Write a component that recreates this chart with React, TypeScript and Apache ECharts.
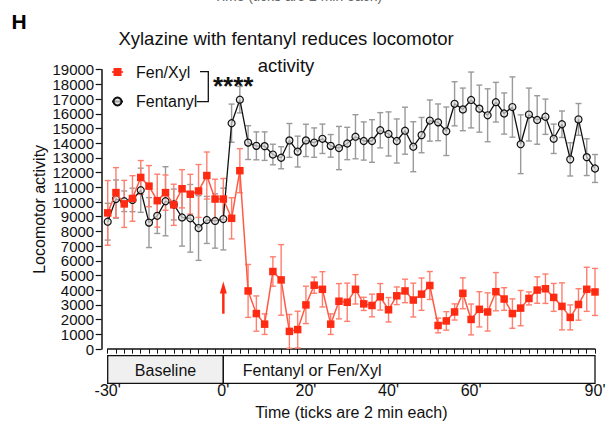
import React, { useEffect, useRef } from 'react';
import * as echarts from 'echarts';

const FONT = "'Liberation Sans', Arial, Helvetica, sans-serif";

// 60 samples, one per 2-min tick
const sampleIndex = Array.from({ length: 60 }, (_, i) => String(i));
const tickLabels: Record<number, string> = { 0: "-30'", 14: "0'", 24: "20'", 34: "40'", 44: "60'", 59: "90'" };
const yTickValues = [
  0, 1000, 2000, 3000, 4000, 5000, 6000, 7000, 8000, 9000,
  10000, 11000, 12000, 13000, 14000, 15000, 16000, 17000, 18000, 19000,
];

const fenXylMean = [
  9260, 10640, 9870, 10240, 11670, 11080, 10090, 10640, 9810, 10900,
  10530, 10750, 11800, 10200, 10200, 8890, 12130, 3950, 2410, 1690,
  5270, 4700, 1200, 1320, 3000, 4340, 4060, 1690, 3250, 3180,
  4060, 3070, 2960, 3550, 2670, 3620, 3950, 3330, 3730, 4320,
  1600, 1910, 2520, 3790, 2010, 2700, 2520, 3900, 3400, 2410,
  2780, 3440, 4010, 4100, 3510, 2900, 2150, 3030, 4060, 3880,
];
const fenXylSem = [
  2200, 1700, 1600, 1550, 1150, 1400, 1800, 1200, 1400, 1300,
  1350, 1800, 1600, 1350, 1400, 1400, 1500, 1800, 1200, 700,
  1000, 2400, 1150, 1250, 1270, 550, 1200, 700, 1200, 1300,
  1000, 450, 770, 900, 830, 600, 800, 1150, 1100, 950,
  500, 630, 550, 1050, 1050, 1200, 1300, 1300, 770, 1000,
  1200, 440, 900, 1000, 950, 1600, 850, 1070, 1500, 1600,
];
const fentanylMean = [
  8660, 10200, 10050, 10140, 10800, 8600, 9060, 10050, 9830, 8950,
  8890, 8230, 8780, 8710, 8840, 15360, 16960, 14040, 13820, 13800,
  13230, 13010, 14190, 13430, 14190, 14040, 14300, 13820, 13670, 13980,
  14440, 14150, 14150, 14880, 14630, 14150, 14850, 13760, 14550, 15540,
  15420, 14810, 16680, 16300, 16940, 16350, 15900, 16790, 16020, 16460,
  13930, 15950, 15580, 15800, 14300, 15290, 12900, 15620, 13050, 12280,
];
const fentanylSem = [
  1250, 1300, 700, 800, 1500, 1700, 1200, 2350, 1050, 1950,
  2300, 2200, 1600, 1850, 2100, 1300, 900, 1150, 950, 970,
  700, 750, 1150, 1050, 1100, 1000, 1000, 770, 1470, 1100,
  1500, 1300, 1450, 1200, 1500, 1500, 1600, 1700, 1200, 1400,
  1250, 1650, 1500, 1450, 1900, 1600, 1800, 1350, 1400, 2050,
  2000, 1800, 1650, 1200, 1000, 900, 1130, 1080, 1250, 950,
];

const seriesNames = ['Fen/Xyl', 'Fentanyl'];
const arrowIndex = 14;
const arrowFrom = 2400;
const arrowTo = 4600;

const RED = '#ff2a12';
const RED_LINE = '#ff5a44';
const RED_ERR = '#ff7e6e';
const BLACK = '#111111';
const GRAY_ERR = '#9a9a9a';

function errRender(color: string, capW: number) {
  return (params: any, api: any) => {
    const i = api.value(0);
    const m = api.value(1);
    const s = api.value(2);
    const top = api.coord([i, m + s]);
    const bot = api.coord([i, Math.max(0, m - s)]);
    const style = { stroke: color, lineWidth: 1.4, fill: 'none' };
    return {
      type: 'group',
      children: [
        { type: 'line', shape: { x1: top[0], y1: top[1], x2: bot[0], y2: bot[1] }, style },
        { type: 'line', shape: { x1: top[0] - capW / 2, y1: top[1], x2: top[0] + capW / 2, y2: top[1] }, style },
        { type: 'line', shape: { x1: bot[0] - capW / 2, y1: bot[1], x2: bot[0] + capW / 2, y2: bot[1] }, style },
      ],
    };
  };
}

export default function App() {
  const ref = useRef<HTMLDivElement>(null);
  useEffect(() => {
    if (!ref.current) return;
    const chart = echarts.init(ref.current, null, { renderer: 'svg' });
    const Y_OFFSET = 6;
    const option: any = {
      animation: false,
      backgroundColor: '#ffffff',
      textStyle: { fontFamily: FONT },
      title: {
        text: 'Xylazine with fentanyl reduces locomotor\nactivity',
        left: 286,
        top: 25,
        padding: 0,
        textAlign: 'center',
        textStyle: { fontFamily: FONT, fontSize: 18.5, fontWeight: 'normal', color: '#111', lineHeight: 27 },
      },
      legend: {
        data: seriesNames,
        orient: 'vertical',
        left: 111,
        top: 64,
        padding: 0,
        itemGap: 13.5,
        itemWidth: 11,
        itemHeight: 10,
        textStyle: { fontFamily: FONT, fontSize: 16, color: '#111', padding: [0, 0, 0, 8] },
      },
      grid: { left: 107.7, right: 17, top: 69.7, bottom: 66.7, containLabel: false },
      xAxis: {
        type: 'category',
        data: sampleIndex,
        boundaryGap: false,
        offset: 2,
        name: 'Time (ticks are 2 min each)',
        nameLocation: 'middle',
        nameGap: 53,
        nameTextStyle: { fontFamily: FONT, fontSize: 16, color: '#111' },
        axisLine: { show: true, lineStyle: { color: '#111', width: 1.5 } },
        axisTick: { show: true, interval: 0, length: 4.7, lineStyle: { color: '#111', width: 1 } },
        axisLabel: {
          interval: 0,
          margin: 31,
          fontFamily: FONT,
          fontSize: 16,
          color: '#111',
          formatter: (_v: string, idx: number) => tickLabels[idx] ?? '',
        },
        splitLine: { show: false },
      },
      yAxis: {
        type: 'value',
        min: 0,
        max: 19000,
        interval: 1000,
        offset: Y_OFFSET,
        name: 'Locomotor activity',
        nameLocation: 'middle',
        nameGap: 54,
        nameTextStyle: { fontFamily: FONT, fontSize: 16, color: '#111' },
        axisLine: { show: true, lineStyle: { color: '#111', width: 1.5 } },
        axisTick: { show: true, length: 6, lineStyle: { color: '#111', width: 1.2 } },
        axisLabel: { show: false },
        splitLine: { show: false },
      },
      series: [
        {
          type: 'custom',
          name: 'fentanylErr',
          renderItem: errRender(GRAY_ERR, 6),
          data: fentanylMean.map((m, i) => [i, m, fentanylSem[i]]),
          encode: { x: 0, y: 1 },
          z: 1,
          silent: true,
        },
        {
          type: 'custom',
          name: 'fenXylErr',
          renderItem: errRender(RED_ERR, 6),
          data: fenXylMean.map((m, i) => [i, m, fenXylSem[i]]),
          encode: { x: 0, y: 1 },
          z: 2,
          silent: true,
        },
        {
          type: 'line',
          name: seriesNames[1],
          data: fentanylMean,
          symbol: 'circle',
          symbolSize: 7,
          lineStyle: { color: BLACK, width: 1.3 },
          itemStyle: { color: 'rgba(225,225,225,0.7)', borderColor: BLACK, borderWidth: 1.2 },
          z: 3,
        },
        {
          type: 'line',
          name: seriesNames[0],
          data: fenXylMean,
          symbol: 'rect',
          symbolSize: 7.5,
          lineStyle: { color: RED_LINE, width: 1.5 },
          itemStyle: { color: RED },
          z: 4,
        },
      ],
    };
    chart.setOption(option);

    const p = (i: number, v: number) => chart.convertToPixel({ gridIndex: 0 }, [i, v]) as number[];
    const x0 = p(0, 0)[0];
    const xm = p(14, 0)[0];
    const x1 = p(59, 0)[0];
    const axisY = p(0, 0)[1] + 2;
    const yAxisX = x0 - Y_OFFSET;
    const boxTop = axisY + 4.7;
    const boxBottom = 383.3;
    const aTop = p(arrowIndex, arrowTo);
    const aBot = p(arrowIndex, arrowFrom);

    const yLabelTexts = yTickValues.map((v) => ({
      type: 'text',
      silent: true,
      style: {
        text: String(v),
        x: yAxisX - 7.5,
        y: p(0, v)[1],
        textAlign: 'right',
        textVerticalAlign: 'middle',
        fontFamily: FONT,
        fontSize: 15,
        lineHeight: 13,
        fill: '#111',
      },
    }));

    chart.setOption({
      graphic: [
        ...yLabelTexts,
        {
          type: 'text',
          style: { text: 'Time (ticks are 2 min each)', x: 298, y: 2.5, textAlign: 'center', textVerticalAlign: 'bottom', fontFamily: FONT, fontSize: 14, fill: '#666' },
        },
        {
          type: 'text',
          style: { text: 'H', x: 11.5, y: 10.5, textVerticalAlign: 'top', fontFamily: FONT, fontSize: 21, fontWeight: 'bold', fill: '#000' },
        },
        {
          type: 'rect',
          shape: { x: x0, y: boxTop, width: xm - x0, height: boxBottom - boxTop },
          style: { fill: '#f0f0f0', stroke: '#111', lineWidth: 1.3 },
        },
        {
          type: 'rect',
          shape: { x: xm, y: boxTop, width: x1 - xm, height: boxBottom - boxTop },
          style: { fill: '#ffffff', stroke: '#111', lineWidth: 1.3 },
        },
        {
          type: 'text',
          style: { text: 'Baseline', x: (x0 + xm) / 2, y: (boxTop + boxBottom) / 2 + 0.5, textAlign: 'center', textVerticalAlign: 'middle', fontFamily: FONT, fontSize: 16, fill: '#111' },
        },
        {
          type: 'text',
          style: { text: 'Fentanyl or Fen/Xyl', x: xm + 19.4, y: (boxTop + boxBottom) / 2 + 0.5, textAlign: 'left', textVerticalAlign: 'middle', fontFamily: FONT, fontSize: 16, fill: '#111' },
        },
        {
          type: 'polyline',
          shape: { points: [[200, 71.7], [208.3, 71.7], [208.3, 101.7], [196.7, 101.7]] },
          style: { stroke: '#111', lineWidth: 1.3, fill: 'none' },
        },
        {
          type: 'text',
          style: { text: '****', x: 213, y: 86, textAlign: 'left', textVerticalAlign: 'middle', fontFamily: FONT, fontSize: 26, fontWeight: 'bold', fill: '#111' },
        },
        {
          type: 'line',
          shape: { x1: aBot[0], y1: aBot[1], x2: aTop[0], y2: aTop[1] + 10 },
          style: { stroke: RED, lineWidth: 2.5 },
        },
        {
          type: 'polygon',
          shape: { points: [[aTop[0] - 3.5, aTop[1] + 12], [aTop[0], aTop[1]], [aTop[0] + 3.5, aTop[1] + 12]] },
          style: { fill: RED },
        },
      ],
    });

    return () => chart.dispose();
  }, []);
  return <div ref={ref} style={{ position: 'fixed', left: 0, top: 0, width: 612, height: 425, background: '#fff' }} />;
}
